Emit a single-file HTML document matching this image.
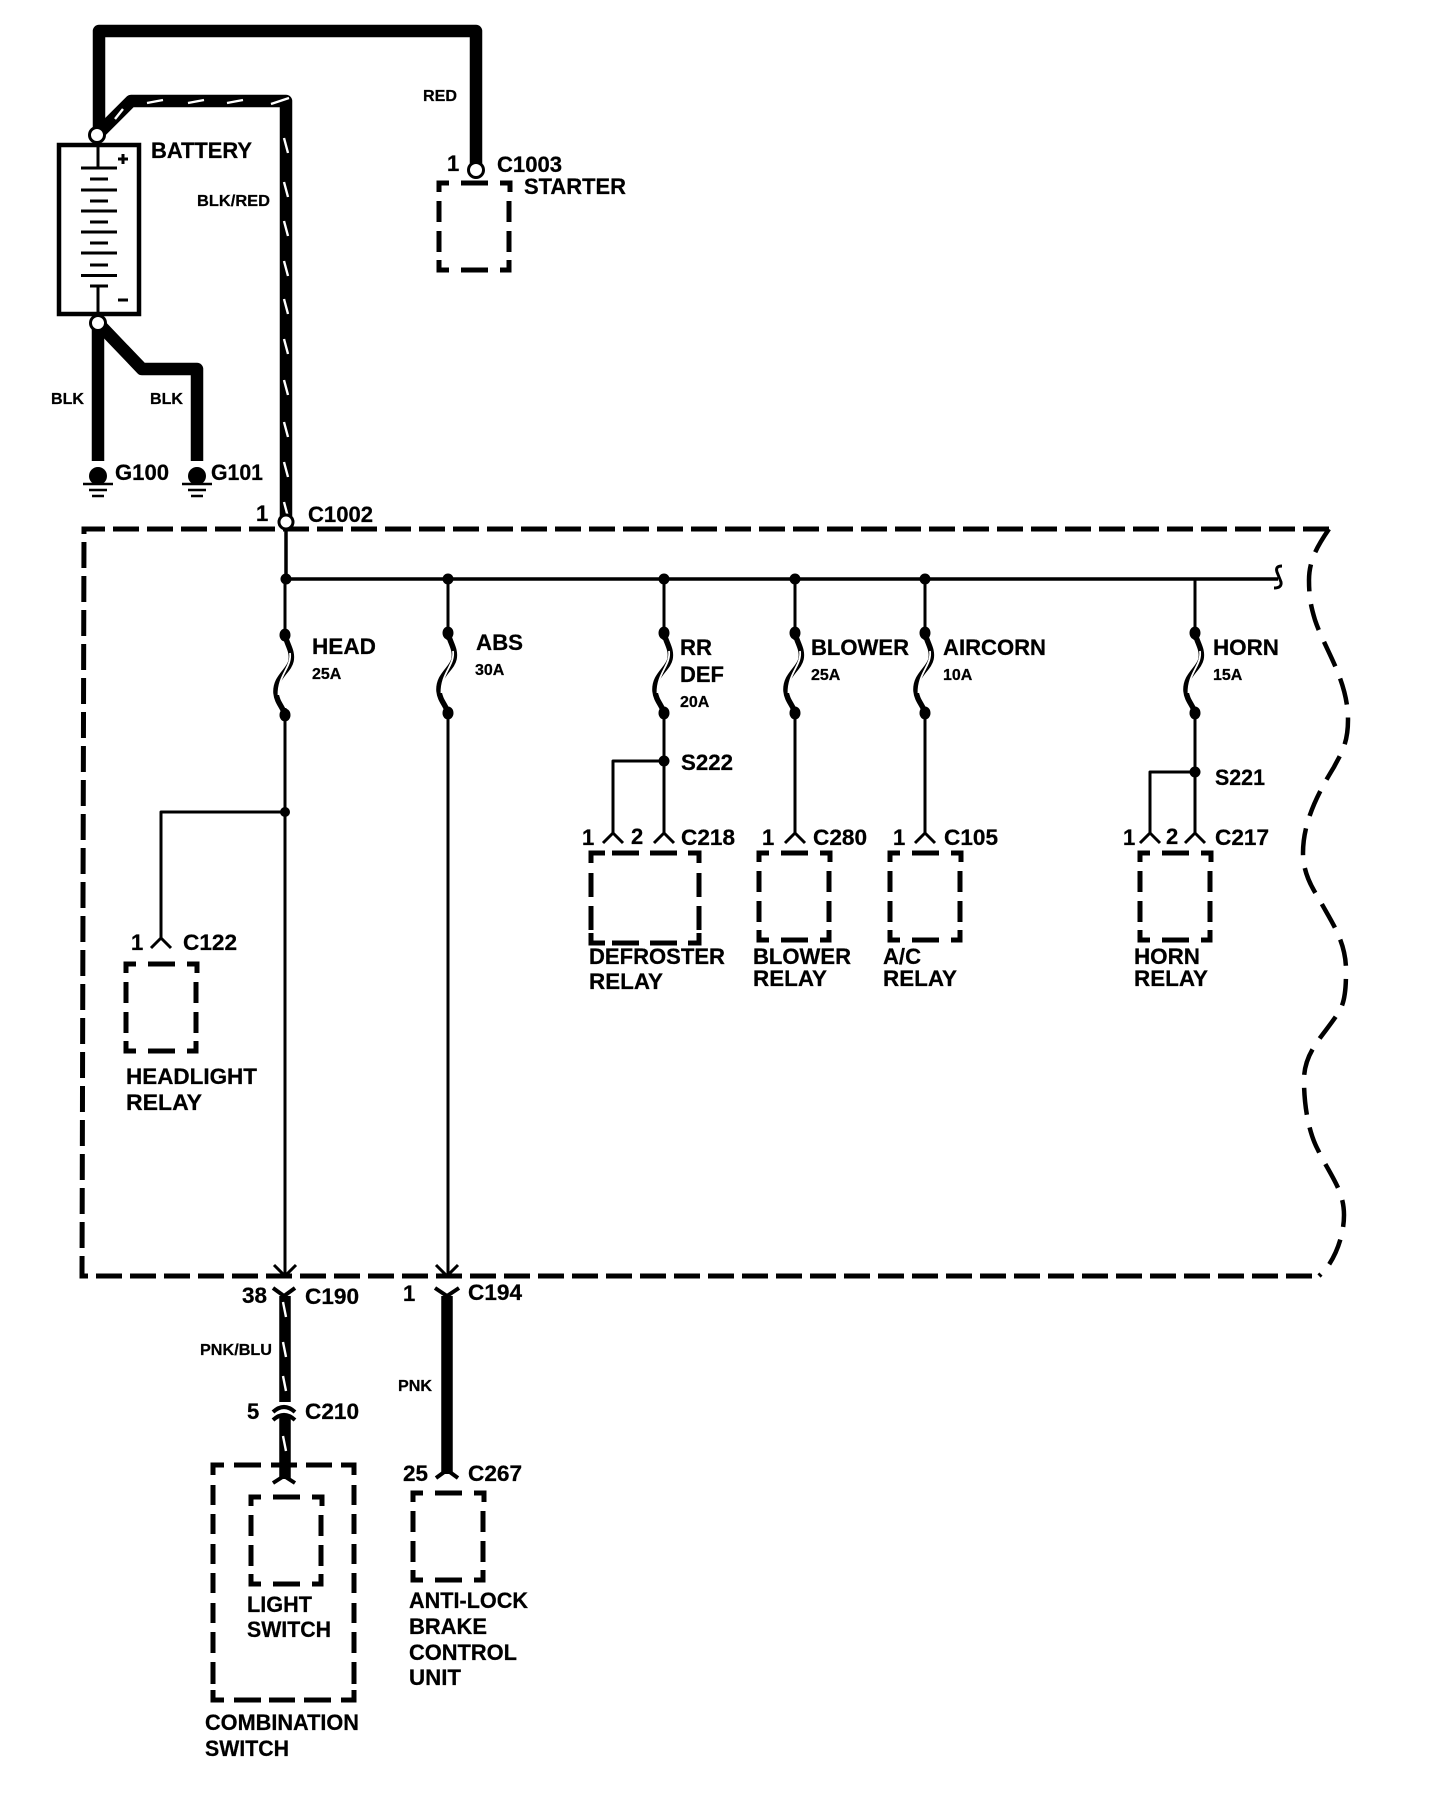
<!DOCTYPE html>
<html><head><meta charset="utf-8"><title>Wiring diagram</title>
<style>
html,body{margin:0;padding:0;background:#fff}
svg{display:block}
text{font-family:"Liberation Sans",sans-serif;font-weight:bold;fill:#000;stroke:#000;stroke-width:.25px}
.l{font-size:22px}.s{font-size:16px}
.w{fill:none;stroke:#000;stroke-linejoin:round}
.d{fill:none;stroke:#000;stroke-width:5;stroke-linejoin:miter}
.st{fill:none;stroke:#fff;stroke-width:2.4}
</style></head><body>
<svg width="1440" height="1804" viewBox="0 0 1440 1804" xmlns="http://www.w3.org/2000/svg">
<rect width="1440" height="1804" fill="#fff"/>
<defs>
<path id="bx" class="d" d="M2 11V2H12M24 2H51M63 2H73V11M2 20V41M2 50V71M2 79V89H12M24 89H51M63 89H72V79M72 20V41M72 50V71"/>
<g id="fz"><path class="w" stroke-width="5.5" d="M0 0C2 10 8 16 6 26C4 36 -10 42 -9 58C-8 68 -2 72 0 80"/><path fill="none" stroke="#fff" stroke-width="1.8" d="M5 18C7 32 -7 40 -6.5 60"/><ellipse cx="0" cy="0" rx="5.5" ry="6.5"/><ellipse cx="0" cy="80" rx="5.5" ry="6.5"/></g>
<path id="ch" class="w" stroke-width="3" d="M-10 10L0 0L10 10"/>
</defs>

<!-- main wires -->
<path class="w" stroke-width="12.5" d="M99 135V31H476V165"/>
<path class="w" stroke-width="12.5" d="M97 135L131 101H286V520"/>
<path class="st" d="M147 103L163 100M188 103L204 100M227 103L243 100M271 104L289 98M115 119L123 109M284 138L288 153M284 182L288 197M284 221L288 236M284 261L288 276M284 299L288 314M284 339L288 354M284 380L288 395M284 422L288 437M284 462L288 477M284 502L288 517"/>
<path class="w" stroke-width="12.5" d="M98 323V461"/>
<path class="w" stroke-width="12.5" d="M98 323L142 369H197V461"/>
<circle cx="97" cy="135" r="7.5" fill="#fff" stroke="#000" stroke-width="3"/>
<circle cx="98" cy="323" r="7.5" fill="#fff" stroke="#000" stroke-width="3"/>

<!-- battery -->
<rect x="59" y="145" width="80" height="169" fill="none" stroke="#000" stroke-width="4.5"/>
<path fill="none" stroke="#000" stroke-width="3" d="M98 145V168M81 168H117M90 179H108M81 190H117M90 201H108M81 211H117M90 222H108M81 232H117M90 243H108M81 253H117M90 265H108M81 275.5H117M90 286H108M98 286V314M118 159H128M123 154V164M118 300H128"/>

<!-- starter -->
<circle cx="476" cy="170" r="7.5" fill="#fff" stroke="#000" stroke-width="3"/>
<use href="#bx" x="437" y="181"/>

<!-- grounds -->
<circle cx="98" cy="476" r="9"/><circle cx="197" cy="476" r="9"/>
<path fill="none" stroke="#000" stroke-width="2.5" d="M83 484H113M89 490H107M92 496H104M182 484H212M188 490H206M191 496H203"/>

<!-- outline -->
<path class="d" stroke-width="5.5" stroke-dasharray="26 8" d="M1329 529H84L82 1276H1319"/>
<path class="w" stroke-width="4.5" stroke-dasharray="27 13" d="M1329 529C1318 545 1309 560 1309 580C1309 600 1312 610 1315 620C1325 650 1348 680 1348 720C1348 745 1340 755 1334 767C1320 790 1303 820 1303 853C1303 870 1310 885 1318 897C1330 920 1346 940 1346 970C1346 990 1345 1000 1340 1010C1325 1035 1304 1050 1304 1080C1304 1110 1310 1135 1318 1150C1330 1175 1344 1190 1344 1215C1344 1240 1332 1262 1325 1270L1319 1276"/>
<circle cx="286" cy="522" r="7" fill="#fff" stroke="#000" stroke-width="3"/>

<!-- bus -->
<path class="w" stroke-width="3.5" d="M286 529V579H1278"/>
<path class="w" stroke-width="3" d="M1282 566Q1275 566 1277 572L1281 582Q1282 588 1274 588"/>
<g><circle cx="286" cy="579" r="5.5"/><circle cx="448" cy="579" r="5.5"/><circle cx="664" cy="579" r="5.5"/><circle cx="795" cy="579" r="5.5"/><circle cx="925" cy="579" r="5.5"/></g>
<path class="w" stroke-width="3" d="M285 579V1276M448 579V1276M664 579V835M795 579V835M925 579V835M1195 579V835"/>
<path class="w" stroke-width="3" d="M285 812H161V939M664 761H613V835M1195 772H1150V835"/>
<circle cx="285" cy="812" r="5"/><circle cx="664" cy="761" r="5.5"/><circle cx="1195" cy="772" r="5.5"/>

<!-- fuses -->
<rect x="274" y="640" width="24" height="68" fill="#fff"/><use href="#fz" x="285" y="635"/>
<rect x="436" y="640" width="24" height="68" fill="#fff"/><use href="#fz" x="448" y="633"/>
<rect x="652" y="640" width="24" height="68" fill="#fff"/><use href="#fz" x="664" y="633"/>
<rect x="783" y="640" width="24" height="68" fill="#fff"/><use href="#fz" x="795" y="633"/>
<rect x="913" y="640" width="24" height="68" fill="#fff"/><use href="#fz" x="925" y="633"/>
<rect x="1183" y="640" width="24" height="68" fill="#fff"/><use href="#fz" x="1195" y="633"/>

<!-- connectors -->
<use href="#ch" x="161" y="938"/>
<use href="#ch" x="613" y="833"/><use href="#ch" x="664" y="833"/>
<use href="#ch" x="795" y="833"/><use href="#ch" x="925" y="833"/>
<use href="#ch" x="1150" y="833"/><use href="#ch" x="1195" y="833"/>

<!-- component boxes -->
<path class="d" d="M591 863V853H605M612 853H639M650 853H677M688 853H699V863M591 873V897M591 906V930M591 933V943H605M612 943H639M650 943H677M688 943H699V933M699 873V897M699 906V930"/>
<use href="#bx" x="757" y="851"/>
<use href="#bx" x="888" y="851"/>
<use href="#bx" x="1138" y="851"/>
<use href="#bx" x="124" y="962"/>
<use href="#bx" x="249" y="1495"/>
<use href="#bx" x="411" y="1491"/>
<path class="d" d="M213 1475V1465H224M234 1465H261M271 1465H297M306 1465H332M341 1465H354V1475M213 1485V1505M213 1514V1534M213 1544V1564M213 1573V1593M213 1603V1623M213 1632V1653M213 1662V1684M213 1690V1700H224M234 1700H261M269 1700H295M304 1700H331M341 1700H354V1690M354 1485V1505M354 1514V1534M354 1544V1564M354 1573V1593M354 1603V1623M354 1632V1653M354 1662V1684"/>

<!-- arrows into bottom -->
<path class="w" stroke-width="3" d="M274 1265L285 1276L296 1265M436 1265L447 1276L458 1265"/>

<!-- lower wires -->
<path class="w" stroke-width="4" d="M273 1288L284 1296L295 1288M435 1288L447 1296L459 1288"/>
<path class="w" stroke-width="11.5" d="M285 1296V1402M285 1416V1479"/>
<path class="w" stroke-width="11.5" d="M447 1296V1474"/>
<path class="st" d="M283 1302L286 1317M283 1342L286 1357M283 1376L286 1391M283 1436L286 1451"/>
<path class="w" stroke-width="4" d="M273 1412Q284 1402 295 1412M273 1420Q284 1410 295 1420M273 1483L284 1476L295 1483M436 1478L447 1470L458 1478"/>

<!-- labels -->
<g transform="translate(-1,-1)">
<text class="s" x="424" y="102" textLength="34" lengthAdjust="spacingAndGlyphs">RED</text>
<text class="l" x="448" y="172">1</text>
<text class="l" x="498" y="173" textLength="65" lengthAdjust="spacingAndGlyphs">C1003</text>
<text class="l" x="525" y="195" textLength="102" lengthAdjust="spacingAndGlyphs">STARTER</text>
<text class="l" x="152" y="159" textLength="101" lengthAdjust="spacingAndGlyphs">BATTERY</text>
<text class="s" x="198" y="207" textLength="73" lengthAdjust="spacingAndGlyphs">BLK/RED</text>
<text class="s" x="52" y="405" textLength="33" lengthAdjust="spacingAndGlyphs">BLK</text>
<text class="s" x="151" y="405" textLength="33" lengthAdjust="spacingAndGlyphs">BLK</text>
<text class="l" x="116" y="481" textLength="54" lengthAdjust="spacingAndGlyphs">G100</text>
<text class="l" x="212" y="481" textLength="52" lengthAdjust="spacingAndGlyphs">G101</text>
<text class="l" x="257" y="522">1</text>
<text class="l" x="309" y="523" textLength="65" lengthAdjust="spacingAndGlyphs">C1002</text>

<text class="l" x="313" y="655" textLength="64" lengthAdjust="spacingAndGlyphs">HEAD</text>
<text class="s" x="313" y="680">25A</text>
<text class="l" x="477" y="651" textLength="47" lengthAdjust="spacingAndGlyphs">ABS</text>
<text class="s" x="476" y="676">30A</text>
<text class="l" x="681" y="656" textLength="32" lengthAdjust="spacingAndGlyphs">RR</text>
<text class="l" x="681" y="683" textLength="44" lengthAdjust="spacingAndGlyphs">DEF</text>
<text class="s" x="681" y="708">20A</text>
<text class="l" x="812" y="656" textLength="98" lengthAdjust="spacingAndGlyphs">BLOWER</text>
<text class="s" x="812" y="681">25A</text>
<text class="l" x="944" y="656" textLength="103" lengthAdjust="spacingAndGlyphs">AIRCORN</text>
<text class="s" x="944" y="681">10A</text>
<text class="l" x="1214" y="656" textLength="66" lengthAdjust="spacingAndGlyphs">HORN</text>
<text class="s" x="1214" y="681">15A</text>
<text class="l" x="682" y="771" textLength="52" lengthAdjust="spacingAndGlyphs">S222</text>
<text class="l" x="1216" y="786" textLength="50" lengthAdjust="spacingAndGlyphs">S221</text>

<text class="l" x="583" y="846">1</text><text class="l" x="632" y="845">2</text>
<text class="l" x="682" y="846" textLength="54" lengthAdjust="spacingAndGlyphs">C218</text>
<text class="l" x="763" y="846">1</text>
<text class="l" x="814" y="846" textLength="54" lengthAdjust="spacingAndGlyphs">C280</text>
<text class="l" x="894" y="846">1</text>
<text class="l" x="945" y="846" textLength="54" lengthAdjust="spacingAndGlyphs">C105</text>
<text class="l" x="1124" y="846">1</text><text class="l" x="1167" y="845">2</text>
<text class="l" x="1216" y="846" textLength="54" lengthAdjust="spacingAndGlyphs">C217</text>

<text class="l" x="590" y="965" textLength="136" lengthAdjust="spacingAndGlyphs">DEFROSTER</text>
<text class="l" x="590" y="990" textLength="74" lengthAdjust="spacingAndGlyphs">RELAY</text>
<text class="l" x="754" y="965" textLength="98" lengthAdjust="spacingAndGlyphs">BLOWER</text>
<text class="l" x="754" y="987" textLength="74" lengthAdjust="spacingAndGlyphs">RELAY</text>
<text class="l" x="884" y="965" textLength="38" lengthAdjust="spacingAndGlyphs">A/C</text>
<text class="l" x="884" y="987" textLength="74" lengthAdjust="spacingAndGlyphs">RELAY</text>
<text class="l" x="1135" y="965" textLength="66" lengthAdjust="spacingAndGlyphs">HORN</text>
<text class="l" x="1135" y="987" textLength="74" lengthAdjust="spacingAndGlyphs">RELAY</text>

<text class="l" x="132" y="951">1</text>
<text class="l" x="184" y="951" textLength="54" lengthAdjust="spacingAndGlyphs">C122</text>
<text class="l" x="127" y="1085" textLength="131" lengthAdjust="spacingAndGlyphs">HEADLIGHT</text>
<text class="l" x="127" y="1111" textLength="76" lengthAdjust="spacingAndGlyphs">RELAY</text>

<text class="l" x="243" y="1304" textLength="25" lengthAdjust="spacingAndGlyphs">38</text>
<text class="l" x="306" y="1305" textLength="54" lengthAdjust="spacingAndGlyphs">C190</text>
<text class="l" x="404" y="1302">1</text>
<text class="l" x="469" y="1301" textLength="54" lengthAdjust="spacingAndGlyphs">C194</text>
<text class="s" x="201" y="1356" textLength="72" lengthAdjust="spacingAndGlyphs">PNK/BLU</text>
<text class="s" x="399" y="1392" textLength="34" lengthAdjust="spacingAndGlyphs">PNK</text>
<text class="l" x="248" y="1420">5</text>
<text class="l" x="306" y="1420" textLength="54" lengthAdjust="spacingAndGlyphs">C210</text>
<text class="l" x="404" y="1482" textLength="25" lengthAdjust="spacingAndGlyphs">25</text>
<text class="l" x="469" y="1482" textLength="54" lengthAdjust="spacingAndGlyphs">C267</text>

<text class="l" x="248" y="1613" textLength="65" lengthAdjust="spacingAndGlyphs">LIGHT</text>
<text class="l" x="248" y="1638" textLength="84" lengthAdjust="spacingAndGlyphs">SWITCH</text>
<text class="l" x="206" y="1731" textLength="154" lengthAdjust="spacingAndGlyphs">COMBINATION</text>
<text class="l" x="206" y="1757" textLength="84" lengthAdjust="spacingAndGlyphs">SWITCH</text>
<text class="l" x="410" y="1609" textLength="119" lengthAdjust="spacingAndGlyphs">ANTI-LOCK</text>
<text class="l" x="410" y="1635" textLength="78" lengthAdjust="spacingAndGlyphs">BRAKE</text>
<text class="l" x="410" y="1661" textLength="108" lengthAdjust="spacingAndGlyphs">CONTROL</text>
<text class="l" x="410" y="1686" textLength="52" lengthAdjust="spacingAndGlyphs">UNIT</text>
</g>
</svg>
</body></html>
